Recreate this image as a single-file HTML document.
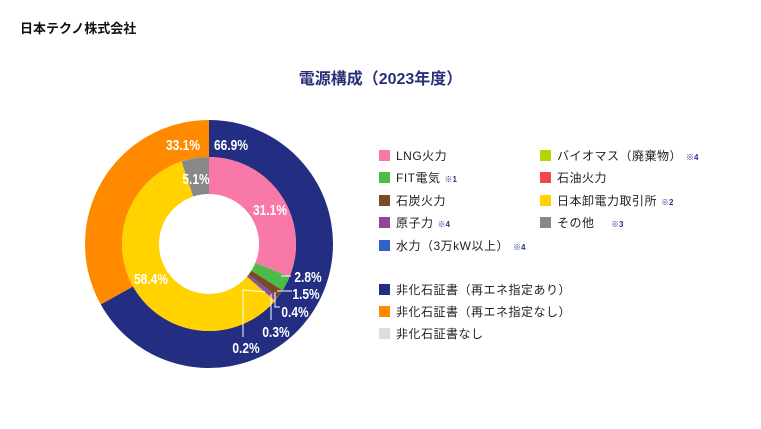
<!DOCTYPE html>
<html><head><meta charset="utf-8"><style>
body{margin:0;background:#fff;width:761px;height:429px;overflow:hidden;font-family:"Liberation Sans","Noto Sans CJK JP",sans-serif;position:relative}
.co{position:absolute;left:20px;top:18px;font-size:13px;font-weight:bold;color:#111}
.ti{position:absolute;left:0;width:761px;top:65px;text-align:center;font-size:16px;font-weight:bold;color:#2a2f7a}
.lg{position:absolute;font-size:12px;color:#222;white-space:nowrap;line-height:14px;letter-spacing:0.5px}
.lg i{display:inline-block;width:11px;height:11px;vertical-align:-1px;margin-right:6px}
.lg small{font-size:8px;color:#2a3590;font-weight:bold;margin-left:4px;letter-spacing:0}
</style></head><body>
<div class="co">日本テクノ株式会社</div>
<div class="ti">電源構成（2023年度）</div>
<svg id="s" width="761" height="429" style="position:absolute;left:0;top:0"></svg>
<div class="lg" style="left:379px;top:149px"><i style="background:#f878a8"></i>LNG火力</div>
<div class="lg" style="left:379px;top:171px"><i style="background:#4cbb48"></i>FIT電気<small>※1</small></div>
<div class="lg" style="left:379px;top:194px"><i style="background:#7a4a26"></i>石炭火力</div>
<div class="lg" style="left:379px;top:216px"><i style="background:#944596"></i>原子力<small>※4</small></div>
<div class="lg" style="left:379px;top:239px"><i style="background:#3060c8"></i>水力（3万kW以上）<small>※4</small></div>
<div class="lg" style="left:540px;top:149px"><i style="background:#b6d400"></i>バイオマス（廃棄物）<small>※4</small></div>
<div class="lg" style="left:540px;top:171px"><i style="background:#f04848"></i>石油火力</div>
<div class="lg" style="left:540px;top:194px"><i style="background:#ffd200"></i>日本卸電力取引所<small>※2</small></div>
<div class="lg" style="left:540px;top:216px"><i style="background:#888"></i>その他　<small>※3</small></div>
<div class="lg" style="left:379px;top:283px"><i style="background:#232d82"></i>非化石証書（再エネ指定あり）</div>
<div class="lg" style="left:379px;top:305px"><i style="background:#ff8a00"></i>非化石証書（再エネ指定なし）</div>
<div class="lg" style="left:379px;top:327px"><i style="background:#ddd"></i>非化石証書なし</div>
<script>
var s=document.getElementById('s'),cx=209,cy=244,NS='http://www.w3.org/2000/svg';
function ring(data,r0,r1){var tot=data.reduce((a,d)=>a+d[0],0),a=0;data.forEach(function(d){
var a0=a/tot*2*Math.PI,a1=(a+d[0])/tot*2*Math.PI;a+=d[0];
function p(r,t){return [cx+r*Math.sin(t),cy-r*Math.cos(t)]}
var L=(a1-a0)>Math.PI?1:0,A=p(r1,a0),B=p(r1,a1),C=p(r0,a1),D=p(r0,a0);
var e=document.createElementNS(NS,'path');
e.setAttribute('d','M'+A+'A'+r1+','+r1+' 0 '+L+' 1 '+B+'L'+C+'A'+r0+','+r0+' 0 '+L+' 0 '+D+'Z');
e.setAttribute('fill',d[1]);s.appendChild(e);});}
ring([[66.9,'#232d82'],[33.1,'#ff8a00']],87,124);
ring([[31.1,'#f878a8'],[2.8,'#4cbb48'],[1.5,'#7a4a26'],[0.4,'#944596'],[0.3,'#3060c8'],[0.2,'#f04848'],[58.4,'#ffd200'],[5.1,'#888']],50,87);
function ln(pts){var e=document.createElementNS(NS,'polyline');e.setAttribute('points',pts);e.setAttribute('fill','none');e.setAttribute('stroke','#fff');e.setAttribute('stroke-width','1');s.appendChild(e);}
ln('281,276 291,276');ln('277,291 292,291');ln('275,292 275,307 280,307');ln('271,294 271,320');ln('265,292 243,290 243,337');
[[231,150,'66.9%'],[183,150,'33.1%'],[196,184,'5.1%'],[270,215,'31.1%'],[151,284,'58.4%'],[308,282,'2.8%'],[306,299,'1.5%'],[295,317,'0.4%'],[276,337,'0.3%'],[246,353,'0.2%']].forEach(function(t){
var e=document.createElementNS(NS,'text');e.setAttribute('x',t[0]);e.setAttribute('y',t[1]);e.setAttribute('text-anchor','middle');
e.setAttribute('fill','#fff');e.setAttribute('font-size','15');e.setAttribute('font-weight','bold');e.setAttribute('font-family','Liberation Sans Narrow,Liberation Sans,sans-serif');
e.setAttribute('textLength',t[2].length*6.8);e.setAttribute('lengthAdjust','spacingAndGlyphs');e.textContent=t[2];s.appendChild(e);});
</script>
</body></html>
